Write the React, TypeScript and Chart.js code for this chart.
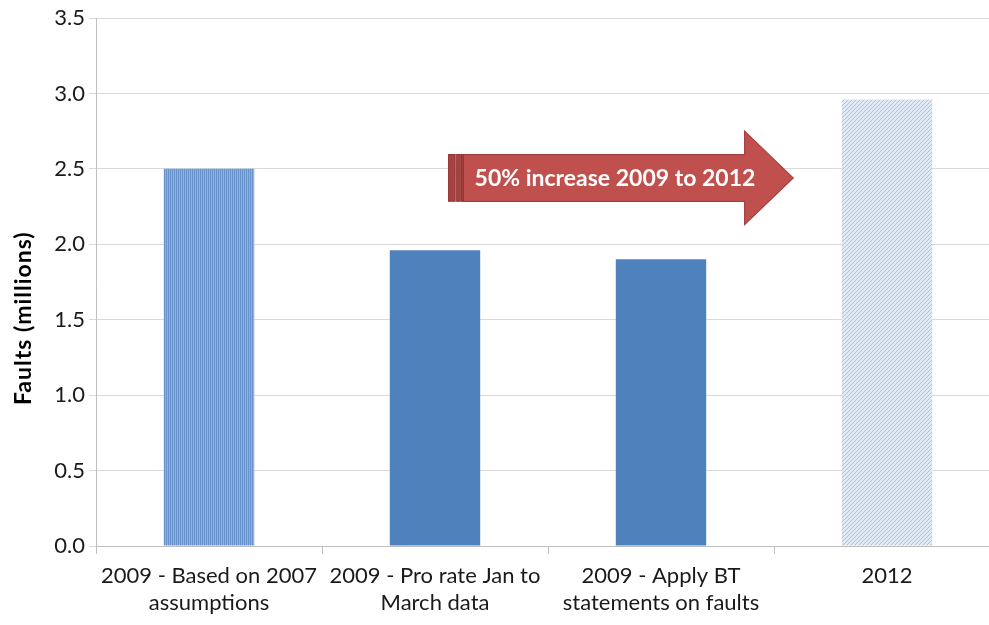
import React, { useEffect, useRef } from "react";
import { Chart, registerables } from "chart.js";

Chart.register(...registerables);

// Chart data
const categories: string[][] = [
  ["2009 - Based on 2007", "assumptions"],
  ["2009 - Pro rate Jan to", "March data"],
  ["2009 - Apply BT", "statements on faults"],
  ["2012"],
];
const faultsMillions = [2.5, 1.96, 1.9, 2.96];
const yTicks = [0, 0.5, 1.0, 1.5, 2.0, 2.5, 3.0, 3.5];
const axisTitle = "Faults (millions)";
const arrowText = "50% increase 2009 to 2012";

// Annotation arrow, expressed in axis units (category index / value)
const ARROW = { from: 1.06, stripeEnd: 1.125, headStart: 2.37, tip: 2.585, yMid: 2.44, bodyHalf: 0.155, headHalf: 0.31, textX: 1.175 };
// Vertical centre of the y-axis title, in axis units
const TITLE_MID = 1.51;

const FONT = "Lato, 'Open Sans', sans-serif";

function makePattern(kind: "vertical" | "diagonal"): CanvasPattern | string {
  const c = document.createElement("canvas");
  const ctx = c.getContext("2d");
  if (!ctx) return "#4F81BD";
  if (kind === "vertical") {
    c.width = 2;
    c.height = 2;
    ctx.fillStyle = "#94B2DC";
    ctx.fillRect(0, 0, 2, 2);
    ctx.fillStyle = "#6690C9";
    ctx.fillRect(0, 0, 1, 2);
  } else {
    c.width = 4;
    c.height = 4;
    ctx.fillStyle = "#E0E9F6";
    ctx.fillRect(0, 0, 4, 4);
    ctx.fillStyle = "#A9C2E5";
    for (let i = 0; i < 4; i++) ctx.fillRect(3 - i, i, 1, 1);
  }
  const p = ctx.createPattern(c, "repeat");
  return p || "#4F81BD";
}

const axisTitlePlugin = {
  id: "axisTitle",
  afterDraw(chart: any) {
    const { ctx, scales } = chart;
    const yc = scales.y.getPixelForValue(TITLE_MID);
    ctx.save();
    ctx.translate(24, yc);
    ctx.rotate(-Math.PI / 2);
    ctx.fillStyle = "#000000";
    ctx.font = `bold 23px ${FONT}`;
    (ctx as any).letterSpacing = "1px";
    ctx.textAlign = "center";
    ctx.textBaseline = "middle";
    ctx.fillText(axisTitle, 0, 0);
    ctx.restore();
  },
};

const arrowPlugin = {
  id: "growthArrow",
  afterDatasetsDraw(chart: any) {
    const { ctx, scales } = chart;
    const x = scales.x;
    const y = scales.y;
    const px = (v: number) => x.getPixelForValue(v);
    const py = (v: number) => y.getPixelForValue(v);
    const x0 = px(ARROW.from);
    const xs = px(ARROW.stripeEnd);
    const xh = px(ARROW.headStart);
    const xt = px(ARROW.tip);
    const ym = py(ARROW.yMid);
    const bt = py(ARROW.yMid + ARROW.bodyHalf);
    const bb = py(ARROW.yMid - ARROW.bodyHalf);
    const ht = py(ARROW.yMid + ARROW.headHalf);
    const hb = py(ARROW.yMid - ARROW.headHalf);
    ctx.save();
    // main arrow shape
    ctx.beginPath();
    ctx.moveTo(xs, bt);
    ctx.lineTo(xh, bt);
    ctx.lineTo(xh, ht);
    ctx.lineTo(xt, ym);
    ctx.lineTo(xh, hb);
    ctx.lineTo(xh, bb);
    ctx.lineTo(xs, bb);
    ctx.closePath();
    ctx.fillStyle = "#C0504D";
    ctx.fill();
    ctx.strokeStyle = "#A5413F";
    ctx.lineWidth = 1.2;
    ctx.stroke();
    // striped tail
    const w = xs - x0;
    const stripes = [
      [0, 0.45],
      [0.55, 0.8],
      [0.88, 1],
    ];
    for (const [a, b] of stripes) {
      ctx.fillStyle = "#A9423F";
      ctx.fillRect(x0 + a * w, bt, (b - a) * w, bb - bt);
      ctx.strokeStyle = "#8F3532";
      ctx.lineWidth = 1;
      ctx.strokeRect(x0 + a * w, bt, (b - a) * w, bb - bt);
    }
    // label
    ctx.fillStyle = "#FFFFFF";
    ctx.font = `bold 23px ${FONT}`;
    ctx.textBaseline = "middle";
    ctx.textAlign = "left";
    ctx.fillText(arrowText, px(ARROW.textX), ym + 1);
    ctx.restore();
  },
};

export default function App() {
  const ref = useRef<HTMLCanvasElement | null>(null);

  useEffect(() => {
    document.body.style.overflow = "hidden";
    const canvas = ref.current;
    if (!canvas) return;
    const colors = [makePattern("vertical"), "#4F81BD", "#4F81BD", makePattern("diagonal")];
    const chart = new Chart(canvas, {
      type: "bar",
      data: {
        labels: categories,
        datasets: [
          {
            data: faultsMillions,
            backgroundColor: colors as any,
            borderWidth: 0,
            barPercentage: 0.4,
            categoryPercentage: 1,
          },
        ],
      },
      options: {
        responsive: false,
        animation: false,
        layout: { padding: { top: 18, right: 0, left: 0, bottom: 0 } },
        plugins: { legend: { display: false }, tooltip: { enabled: false } },
        scales: {
          x: {
            offset: true,
            grid: {
              offset: true,
              drawOnChartArea: false,
              drawTicks: true,
              tickLength: 8,
              color: "#BFBFBF",
            },
            border: { color: "#BFBFBF" },
            ticks: {
              color: "#1A1A1A",
              font: { family: FONT, size: 22 },
              padding: 9,
              maxRotation: 0,
              autoSkip: false,
            },
            afterFit: (s: any) => {
              s.height = 79;
            },
          },
          y: {
            min: 0,
            max: 3.5,
            afterBuildTicks: (s: any) => {
              s.ticks = yTicks.map((v) => ({ value: v }));
            },
            grid: { color: "#D9D9D9", tickLength: 7, drawTicks: true },
            border: { color: "#BFBFBF" },
            ticks: {
              color: "#1A1A1A",
              font: { family: FONT, size: 22 },
              padding: 4,
              callback: (v: any) => Number(v).toFixed(1),
            },
            afterFit: (s: any) => {
              s.width = 96;
            },
          },
        },
      },
      plugins: [arrowPlugin, axisTitlePlugin],
    });
    return () => chart.destroy();
  }, []);

  return (
    <div style={{ position: "fixed", left: 0, top: 0, width: 1000, height: 625, overflow: "hidden" }}>
      <canvas ref={ref} width={1000} height={625} style={{ display: "block" }} />
    </div>
  );
}
